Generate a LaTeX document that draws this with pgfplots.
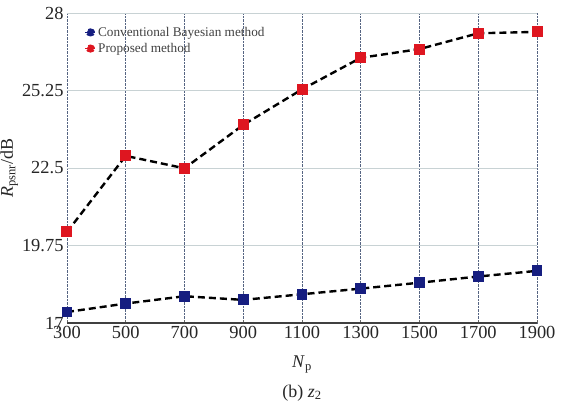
\documentclass[border=0pt]{standalone}
\usepackage{pgfplots}
\pgfplotsset{compat=1.18}
\usepackage{fontspec}
\setmainfont{Liberation Serif}
\definecolor{redm}{RGB}{222,22,32}
\definecolor{bluem}{RGB}{22,30,128}
\definecolor{vgrid}{RGB}{85,100,130}
\definecolor{hgrid}{RGB}{200,210,212}
\begin{document}
\begin{tikzpicture}
\useasboundingbox (-67bp,-91bp) rectangle (499bp,323bp);
\begin{axis}[
  at={(0,0)}, anchor=south west,
  scale only axis, width=470bp, height=310bp,
  xmin=300, xmax=1900, ymin=17, ymax=28,
  xtick={300,500,...,1900}, ytick={17,19.75,22.5,25.25,28},
  grid=major,
  x grid style={densely dotted, color=vgrid, line width=0.8pt},
  y grid style={color=hgrid, line width=0.8pt},
  axis x line*=bottom, axis y line*=left,
  x axis line style={-, line width=1.6pt, color=black!75},
  y axis line style={draw=none},
  tick align=inside,
  xtick style={color=black!60, line width=0.6pt},
  major tick length=3bp,
  ytick style={draw=none},
  tick label style={font=\fontsize{18.5}{20}\selectfont, color=black!85},
  /pgf/number format/assume math mode=true,
  /pgf/number format/1000 sep={},
  /pgf/number format/fixed,
  xlabel={\textit{N}\textsubscript{p}},
  xlabel style={font=\fontsize{18}{20}\selectfont, color=black!85, yshift=-10bp},
  ylabel={\textit{R}\textsubscript{psnr}/dB},
  ylabel style={font=\fontsize{18}{20}\selectfont, color=black!85, yshift=-3bp},
  legend style={at={(0.035,0.965)}, anchor=north west, draw=none, fill=none,
    font=\fontsize{13.3}{14}\selectfont, text=black!75, row sep=1.5bp,
    inner sep=1bp},
  legend cell align=left,
]
\addplot[black, line width=2.4bp, dash pattern=on 7bp off 4bp,
  mark=square*, mark size=4.2bp, mark options={solid, fill=bluem, draw=bluem},
  legend image code/.code={\draw[bluem, solid, line width=1.5bp] (0bp,0bp) -- (10bp,0bp); \fill[bluem] (5bp,0bp) ellipse (3.5bp and 2.8bp);}]
coordinates {(300,17.39) (500,17.69) (700,17.95) (900,17.82) (1100,18.02) (1300,18.22) (1500,18.43) (1700,18.65) (1900,18.85)};
\addlegendentry{Conventional Bayesian method}
\addplot[black, line width=2.4bp, dash pattern=on 7bp off 4bp,
  mark=square*, mark size=4.3bp, mark options={solid, fill=redm, draw=redm},
  legend image code/.code={\draw[redm, solid, line width=1.5bp] (0bp,0bp) -- (10bp,0bp); \fill[redm] (5bp,0bp) ellipse (3.5bp and 2.8bp);}]
coordinates {(300,20.23) (500,22.93) (700,22.49) (900,24.03) (1100,25.29) (1300,26.41) (1500,26.72) (1700,27.28) (1900,27.33)};
\addlegendentry{Proposed method}
\end{axis}
\node[font=\fontsize{18}{20}\selectfont, color=black!85] at (235bp,-70bp) {(b) \textit{z}\textsubscript{2}};
\end{tikzpicture}
\end{document}
